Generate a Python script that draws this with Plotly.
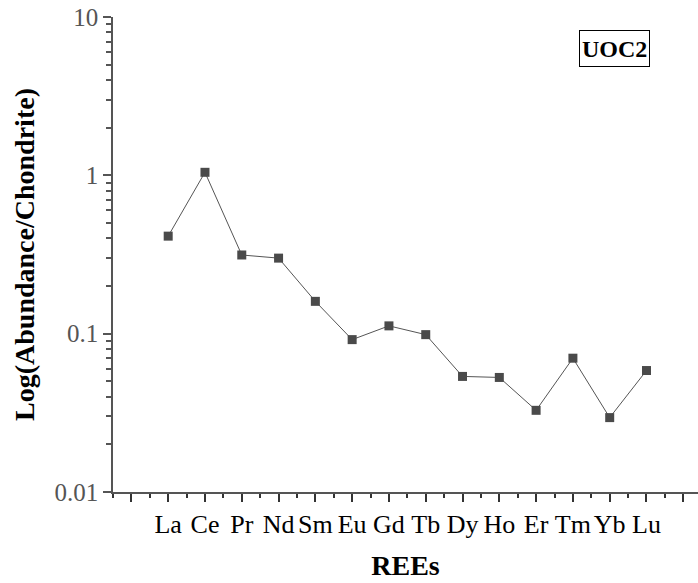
import plotly.graph_objects as go

elements = ["La", "Ce", "Pr", "Nd", "Sm", "Eu", "Gd", "Tb", "Dy", "Ho", "Er", "Tm", "Yb", "Lu"]
abundance = [0.413, 1.045, 0.314, 0.300, 0.160, 0.0917, 0.112, 0.0986, 0.0537, 0.0529, 0.0328, 0.0700, 0.0295, 0.0585]
positions = list(range(1, len(elements) + 1))

y_tickvals = [0.01, 0.1, 1, 10]
y_ticktext = ["0.01", "0.1", "1", "10"]

FONT = "Liberation Serif"

fig = go.Figure()
fig.add_trace(go.Scatter(
    x=positions, y=abundance, mode="lines+markers",
    line=dict(color="#555555", width=1),
    marker=dict(symbol="square", size=9, color="#4a4a4a", line=dict(width=0)),
    showlegend=False,
))

x_major = list(range(0, 16))
x_text = [""] + elements + [""]
x_minor = [i + 0.5 for i in range(-1, 16)]

y_minor = [k * 10 ** e for e in (-2, -1, 0) for k in range(2, 10)]

fig.update_layout(
    width=698, height=583,
    margin=dict(l=113, r=0, t=17, b=91),
    plot_bgcolor="white", paper_bgcolor="white",
    font=dict(family=FONT, color="black"),
    xaxis=dict(
        range=[-0.5, 15.4], showgrid=False, zeroline=False, automargin=False,
        showline=True, linecolor="#555555", linewidth=1.5,
        tickmode="array", tickvals=x_major, ticktext=x_text,
        ticks="outside", ticklen=8, tickwidth=1.5, tickcolor="#333333",
        tickfont=dict(family=FONT, size=26, color="black"),
        minor=dict(tickvals=x_minor, ticks="outside", ticklen=4, tickwidth=1.5, tickcolor="#333333"),
        title=dict(text="<b>REEs</b>", font=dict(family=FONT, size=28, color="black"), standoff=17),
    ),
    yaxis=dict(
        type="log", range=[-2, 1], showgrid=False, zeroline=False, automargin=False,
        showline=True, linecolor="#555555", linewidth=1.5,
        tickmode="array", tickvals=y_tickvals, ticktext=y_ticktext,
        ticks="outside", ticklen=8, tickwidth=1.5, tickcolor="#555555",
        ticklabeloverflow="allow",
        tickfont=dict(family=FONT, size=25, color="#555555"),
        minor=dict(tickvals=y_minor, ticks="outside", ticklen=5, tickwidth=1.5, tickcolor="#555555"),
        title=dict(text="<b>Log(Abundance/Chondrite)</b>", font=dict(family=FONT, size=28, color="black"), standoff=12),
    ),
    annotations=[dict(
        text="<b>UOC2</b>", xref="paper", yref="paper", x=0.918, y=0.933,
        xanchor="right", yanchor="middle", showarrow=False,
        font=dict(family=FONT, size=24, color="black"), height=31,
        bordercolor="black", borderwidth=1, borderpad=2, bgcolor="white",
    )],
)

fig.write_html("out.html", config={"displayModeBar": False},
               post_script="document.body.style.margin='0';")
